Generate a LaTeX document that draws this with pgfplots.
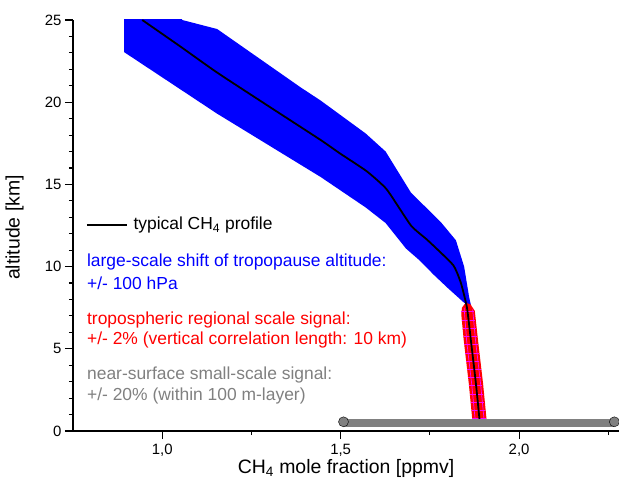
\documentclass[border=0pt]{standalone}
\usepackage{pgfplots}
\pgfplotsset{compat=1.18}
\usepackage{fontspec}
\setmainfont{Liberation Sans}
\definecolor{cblue}{RGB}{0,0,255}
\definecolor{cred}{RGB}{255,0,0}
\definecolor{cmag}{RGB}{255,0,255}
\definecolor{cgray}{RGB}{128,128,128}
\begin{document}
\begin{tikzpicture}
\begin{axis}[
  scale only axis, width=546bp, height=411bp,
  xmin=0.75, xmax=2.28, ymin=0, ymax=25,
  axis x line=bottom, axis y line=left,
  axis line style={-, line width=1.3bp},
  tick align=outside,
  major tick length=8bp, minor tick length=4bp,
  every tick/.style={black, line width=1.1bp},
  xtick={1,1.5,2}, xticklabels={{1,0},{1,5},{2,0}},
  minor xtick={1.25,1.75,2.25},
  ytick={0,5,10,15,20,25}, minor y tick num=4,
  /pgf/number format/assume math mode=true,
  tick label style={font=\fontsize{15}{17}\selectfont},
  xticklabel style={yshift=-2bp},
  xlabel={CH\textsubscript{4} mole fraction [ppmv]},
  ylabel={altitude [km]},
  every axis x label/.style={at={(axis description cs:0.5,-0.09)}, anchor=center, font=\fontsize{19.5}{22}\selectfont},
  every axis y label/.style={at={(axis description cs:-0.107,0.495)}, anchor=center, rotate=90, font=\fontsize{19.5}{22}\selectfont},
  clip=true,
]
\coordinate (bl) at (rel axis cs:0,0);
% blue band (tropopause shift)
\addplot[fill=cblue, draw=none] coordinates {
 (1.846,7.8) (1.80,8.7) (1.761,9.5) (1.72,10.4) (1.683,11.1) (1.626,12.65)
 (1.570,13.6) (1.444,15.45) (1.154,19.3) (0.893,23.05) (0.893,25.5)
 (1.056,25.5) (1.056,25) (1.154,24.45) (1.388,20.9) (1.444,20.1) (1.570,18.1) (1.626,17.0)
 (1.697,14.5) (1.781,12.7) (1.823,11.6) (1.846,10.0) (1.860,8.15) (1.865,7.66)
} -- cycle;
% red band (tropospheric regional signal)
\addplot[fill=cred, draw=none] coordinates {
 (1.870,0.45) (1.859,2.9) (1.845,5.5) (1.838,7.1) (1.840,7.5) (1.850,7.8)
 (1.864,7.7) (1.876,7.3) (1.885,5.5) (1.899,2.9) (1.910,0.45)
} -- cycle;
\addplot[cmag, line width=0.7bp, unbounded coords=jump] table {
x y
1.869 0.75
1.907 0.75
nan nan
1.867 1.25
1.904 1.25
nan nan
1.864 1.75
1.902 1.75
nan nan
1.862 2.25
1.899 2.25
nan nan
1.859 2.75
1.897 2.75
nan nan
1.857 3.25
1.894 3.25
nan nan
1.854 3.75
1.892 3.75
nan nan
1.852 4.25
1.889 4.25
nan nan
1.849 4.75
1.887 4.75
nan nan
1.847 5.25
1.885 5.25
nan nan
1.845 5.75
1.882 5.75
nan nan
1.842 6.25
1.880 6.25
nan nan
1.840 6.75
1.877 6.75
nan nan
1.838 7.25
1.875 7.25
};
\addplot[cmag, line width=0.7bp] coordinates {(1.878,0.45) (1.867,2.9) (1.853,5.5) (1.846,7.5)};
\addplot[cmag, line width=0.7bp] coordinates {(1.903,0.45) (1.892,2.9) (1.878,5.5) (1.870,7.4)};
% typical profile
\addplot[black, line width=1.8bp, smooth, tension=0.3] coordinates {
 (0.944,25) (1.05,23.4) (1.154,21.8) (1.295,19.8) (1.444,17.7) (1.497,16.9)
 (1.573,15.8) (1.629,14.7) (1.697,12.5) (1.744,11.6) (1.815,10.1) (1.837,9.0)
 (1.854,7.5) (1.865,5.5) (1.879,2.9) (1.890,0.5)
};
% near-surface signal
\addplot[cgray, line width=8bp] coordinates {(1.508,0.49) (2.267,0.49)};
\addplot[only marks, mark=*, mark size=5bp, mark options={draw=none, fill=cgray}] coordinates {(1.508,0.56) (2.267,0.56)};
% annotations
\draw[black, line width=1.8bp] (axis cs:0.789,12.53) -- (axis cs:0.902,12.53);
\node[anchor=west, font=\fontsize{17.5}{20}\selectfont, inner sep=0pt] at (axis cs:0.919,12.53) {typical CH\textsubscript{4} profile};
\node[anchor=west, font=\fontsize{17.5}{20}\selectfont, inner sep=0pt, text=cblue] at (axis cs:0.789,10.28) {large-scale shift of tropopause altitude:};
\node[anchor=west, font=\fontsize{17.5}{20}\selectfont, inner sep=0pt, text=cblue] at (axis cs:0.789,9.0) {+/- 100 hPa};
\node[anchor=west, font=\fontsize{17.5}{20}\selectfont, inner sep=0pt, text=cred] at (axis cs:0.789,6.75) {tropospheric regional scale signal:};
\node[anchor=west, font=\fontsize{17.5}{20}\selectfont, inner sep=0pt, text=cred] at (axis cs:0.789,5.54) {+/- 2\% (vertical correlation length: 10 km)};
\node[anchor=west, font=\fontsize{17.5}{20}\selectfont, inner sep=0pt, text=cgray] at (axis cs:0.789,3.41) {near-surface small-scale signal:};
\node[anchor=west, font=\fontsize{17.5}{20}\selectfont, inner sep=0pt, text=cgray] at (axis cs:0.789,2.13) {+/- 20\% (within 100 m-layer)};
\end{axis}
\pgfresetboundingbox
\path[use as bounding box] ([shift={(-73bp,-56bp)}]bl) rectangle ([shift={(546bp,431bp)}]bl);
\end{tikzpicture}
\end{document}
